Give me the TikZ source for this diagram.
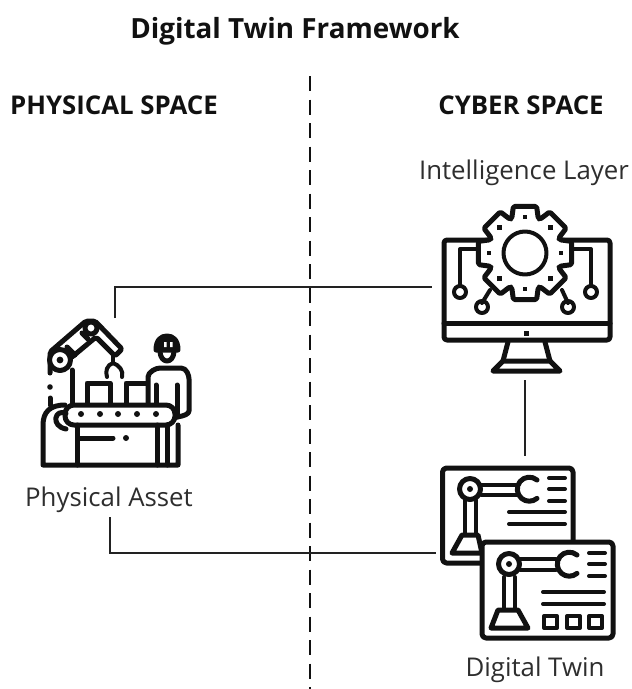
\documentclass[tikz,border=0pt]{standalone}
\usepackage{fontspec}
\setmainfont{Open Sans}
\definecolor{ink}{HTML}{111111}
\definecolor{wire}{HTML}{222222}
\begin{document}
\begin{tikzpicture}[x=1pt,y=-1pt,
  icon/.style={draw=ink,line width=5pt,line join=round,line cap=round},
  iconthin/.style={draw=ink,line width=4pt,line join=round,line cap=round},
  wireline/.style={draw=wire,line width=1.1pt},
  divider/.style={draw=ink,line width=2.4pt,dash pattern=on 15pt off 8.5pt},
  heading/.style={font=\fontsize{25.8pt}{30pt}\selectfont\bfseries,text=ink,inner sep=0pt,anchor=center},
  titletext/.style={font=\fontsize{27.8pt}{32pt}\selectfont\bfseries,text=ink,inner sep=0pt,anchor=center},
  caption/.style={font=\fontsize{25.8pt}{30pt}\selectfont,text=black!82,inner sep=0pt,anchor=center}]
\useasboundingbox[fill=white] (0,0) rectangle (632,689);
% texts
\node[titletext] (title) at (295,31) {Digital Twin Framework};
\node[heading] (phys) at (114,105) {PHYSICAL SPACE};
\node[heading] (cyber) at (521,105) {CYBER SPACE};
\node[caption] (intel) at (524,173) {Intelligence Layer};
\node[caption] (asset) at (109,500) {Physical Asset};
\node[caption] (twin) at (535,670) {Digital Twin};
% anchors of the connectors
\coordinate (dtop) at (310,76);
\coordinate (dbot) at (310,689);
\coordinate (monL) at (432,287);
\coordinate (robT) at (115,318);
\coordinate (corner1) at (115,287);
\coordinate (assetB) at (110,517);
\coordinate (corner2) at (110,553);
\coordinate (twinL) at (436,553);
\coordinate (monB) at (525,380);
\coordinate (twinT) at (525,456);
\draw[divider] (dtop) -- (dbot);
\draw[wireline] (robT) -- (corner1) -- (monL);
\draw[wireline] (assetB) -- (corner2) -- (twinL);
\draw[wireline] (monB) -- (twinT);

% ---------- monitor
\draw[icon,rounded corners=3pt] (444,240) rectangle (610,340);
\draw[icon] (444,323) -- (610,323);
\fill[ink] (523.5,330.5) rectangle (529,336);
\draw[icon] (508,342) -- (503,361) (545,342) -- (550,361);
\draw[icon] (503,361) -- (550,361) -- (560,371) -- (493,371) -- cycle;
% circuit
\draw[iconthin] (478,249) -- (460,249) -- (460,285);
\draw[iconthin] (574,249) -- (591,249) -- (591,285);
\draw[iconthin] (490,290) -- (482,303);
\draw[iconthin] (562,290) -- (568,303);
\draw[iconthin] (460,292) circle (6);
\draw[iconthin] (591,292) circle (6);
\draw[iconthin] (482,307) circle (6);
\draw[iconthin] (568,307) circle (6);
% gear
\def\gearpath{}
\foreach \a in {0,45,...,315}{\xdef\gearpath{\gearpath (\a-21:37) -- (\a-14:48) -- (\a+14:48) -- (\a+21:37) -- }}
\begin{scope}[shift={(525,253)}]
\draw[icon,fill=white,rounded corners=1.5pt] \gearpath cycle;
\draw[iconthin] (0,0) circle (21.5);
\foreach \a in {0,45,...,315}{\fill[ink] (\a:36) ++(-2.3,-2.3) rectangle ++(4.6,4.6);}
\end{scope}

% ---------- robot + worker
% arm
\draw[icon,rounded corners=2pt] (50,373) -- (50,352) -- (86,321) -- (95,321) -- (122,349) -- (115,356) -- (96,337) -- (72,357);
\draw[icon] (67,347) -- (75,355);
\draw[icon] (82,333) -- (88,339);
\draw[icon,fill=white] (91,328) circle (6);
\draw[icon,fill=white] (60,360) circle (10.5);
\fill[ink] (60,360) circle (3.4);
\fill[ink] (50,387) circle (2.8);
\draw[icon] (50,398) -- (50,405);
\draw[icon] (72,370) -- (72,405);
\draw[iconthin] (113,356) -- (113,363);
\draw[iconthin] (107,377) .. controls (105,371) and (107,365) .. (113,363) .. controls (119,365) and (124,371) .. (122,377);
% boxes
\draw[icon] (87,405) -- (87,383) -- (110,383) -- (110,405);
\draw[icon] (126,405) -- (126,383) -- (147,383);
% worker
\draw[icon,rounded corners=3pt] (148,405) -- (148,380) .. controls (148,372) and (156,368) .. (163,368) -- (178,368) .. controls (187,368) and (189,376) .. (189,382) -- (189,408) .. controls (189,414) and (184,416) .. (177,417);
\draw[icon] (156,385) -- (156,405);
\draw[icon] (177,385) -- (177,417);
\draw[icon] (160,352) .. controls (161,364) and (173,364) .. (174,352);
\draw[icon,fill=ink] (156,350) .. controls (156,340) and (161,336) .. (167,336) .. controls (173,336) and (178,340) .. (178,350) -- cycle;
\fill[white] (164,342) rectangle (166.5,347) (170,342) rectangle (172.5,347);
% conveyor
\draw[icon,fill=white,rounded corners=9pt] (65,405) rectangle (175,425);
\foreach \x in {81,100,118,137,156}{\fill[ink] (\x,414) circle (3);}
% table
\draw[icon] (65,405) .. controls (50,405) and (43,412) .. (43,425) -- (43,465) -- (178,465) -- (178,425);
\draw[icon] (66,413.5) .. controls (55,408) and (50,426) .. (66,429);
\draw[icon] (77,425) -- (77,465);
\draw[icon] (157,425) -- (157,465);
\draw[icon] (167,425) -- (167,465);
\draw[icon] (80,438) -- (113,438);
\fill[ink] (126,438) circle (3);

% ---------- digital twin, back card
\draw[icon,rounded corners=4pt] (482,563) -- (442.5,563) -- (442.5,468) -- (573,468) -- (573,541);
\draw[icon] (470,489) circle (10.5);
\fill[ink] (470,489) circle (3);
\draw[iconthin] (481,484.5) -- (517,484.5) (481,494.5) -- (517,494.5);
\draw[icon] (537,480) arc (-50:-310:12);
\draw[iconthin] (465,500) -- (465,533) (476,500) -- (476,533);
\draw[icon] (462,535) -- (478,535) -- (482,553) -- (452,553) -- cycle;
\draw[iconthin] (549,478) -- (565,478) (549,489) -- (565,489) (549,501) -- (565,501);
\draw[iconthin] (509,512) -- (565,512) (509,524) -- (565,524);
% front card
\draw[icon,fill=white,rounded corners=4pt] (482,542) rectangle (613,638);
\draw[icon] (509,564) circle (10.5);
\fill[ink] (509,564) circle (3);
\draw[iconthin] (520,559) -- (556,559) (520,569.5) -- (556,569.5);
\draw[icon] (577,555) arc (-50:-310:12);
\draw[iconthin] (504,577) -- (504,608) (515,577) -- (515,608);
\draw[icon] (498,610) -- (518,610) -- (528,628) -- (491,628) -- cycle;
\draw[iconthin] (589,553) -- (605,553) (589,564) -- (605,564) (589,576) -- (605,576);
\draw[iconthin] (543,592) -- (604,592) (543,604) -- (604,604);
\foreach \x in {543,566,588}{\draw[iconthin] (\x+1,616) rectangle (\x+14,628);}
\end{tikzpicture}
\end{document}
